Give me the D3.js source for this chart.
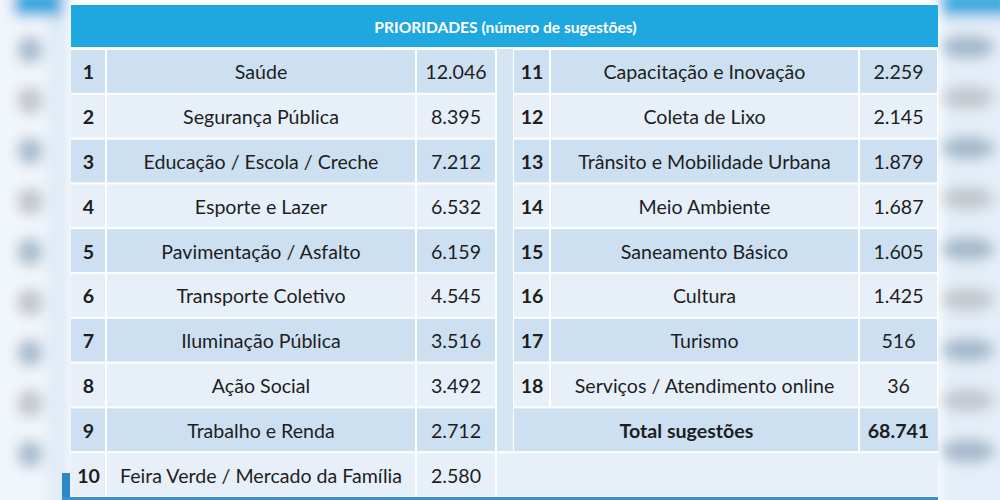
<!DOCTYPE html>
<html><head><meta charset="utf-8">
<script src="https://cdn.jsdelivr.net/npm/d3@7"></script>
<style>
html,body{margin:0;padding:0;background:#fff;}
svg{display:block;font-family:Lato,"Open Sans",sans-serif;}
</style></head><body>
<svg id="c" width="1000" height="500"></svg>
<script>
const title = "PRIORIDADES (número de sugestões)";
const leftRanks = [1,2,3,4,5,6,7,8,9,10];
const leftNames = ["Saúde","Segurança Pública","Educação / Escola / Creche","Esporte e Lazer","Pavimentação / Asfalto","Transporte Coletivo","Iluminação Pública","Ação Social","Trabalho e Renda","Feira Verde / Mercado da Família"];
const leftValues = [12046,8395,7212,6532,6159,4545,3516,3492,2712,2580];
const rightRanks = [11,12,13,14,15,16,17,18];
const rightNames = ["Capacitação e Inovação","Coleta de Lixo","Trânsito e Mobilidade Urbana","Meio Ambiente","Saneamento Básico","Cultura","Turismo","Serviços / Atendimento online"];
const rightValues = [2259,2145,1879,1687,1605,1425,516,36];
const totalLabel = "Total sugestões";
const totalValue = 68741;

const svg = d3.select("#c");
const fmt = v => d3.format(",")(v).replace(/,/g,".");
const dark = "#cde0f2", light = "#e7f0f9", head = "#1fa8e0", txt = "#1e1e1e";
const fs = 19.6;

// blurred background decoration
const defs = svg.append("defs");
defs.append("filter").attr("id","blur").attr("x","-50%").attr("y","-50%").attr("width","200%").attr("height","200%")
  .append("feGaussianBlur").attr("stdDeviation",6.5);
const bg = svg.append("g").attr("filter","url(#blur)");
bg.append("rect").attr("x",-20).attr("y",-20).attr("width",90).attr("height",540).attr("fill","#f1f6fb");
bg.append("rect").attr("x",48).attr("y",-20).attr("width",22).attr("height",540).attr("fill","#dfeaf5");
bg.append("rect").attr("x",940).attr("y",-20).attr("width",80).attr("height",540).attr("fill","#e4eef8");
bg.append("rect").attr("x",14).attr("y",-10).attr("width",48).attr("height",26).attr("fill","#2aa7df");
bg.append("rect").attr("x",942).attr("y",-10).attr("width",70).attr("height",26).attr("fill","#34abe0");
const blobY = d3.range(9).map(i => 50 + i*50.5);
bg.selectAll(".bl").data(blobY).join("ellipse")
  .attr("cx",30).attr("cy",d=>d).attr("rx",13).attr("ry",14)
  .attr("fill",(d,i)=> i%2 ? "#c2c6cc" : "#a8bccd");
bg.selectAll(".br").data(blobY).join("ellipse")
  .attr("cx",968).attr("cy",d=>d-3).attr("rx",27).attr("ry",12)
  .attr("fill",(d,i)=> i%2 ? "#c4c8ce" : "#a5b9cb");

// table
const x0 = 71, x1 = 938;
svg.append("rect").attr("x",x0).attr("y",3).attr("width",x1-x0).attr("height",495).attr("fill","#fff");
svg.append("rect").attr("x",62).attr("y",473).attr("width",8).attr("height",27).attr("fill","#2d86c8");
svg.append("rect").attr("x",62).attr("y",497).attr("width",x1-62).attr("height",3).attr("fill","#3a8fcc");

// header
svg.append("rect").attr("x",x0).attr("y",5).attr("width",x1-x0).attr("height",42).attr("fill",head);
svg.append("text").attr("x",(x0+x1)/2+1).attr("y",27).attr("text-anchor","middle").attr("dominant-baseline","central")
  .attr("fill","#fff").attr("font-weight","bold").attr("font-size",15.6).text(title);

const y = d3.scaleBand().domain(d3.range(10)).range([49,497]).paddingInner(0);
const rowFill = i => i%2===0 ? dark : light;
const gap = 1;

function block(cols, ranks, names, values){
  const g = svg.append("g");
  ranks.forEach((r,i)=>{
    const yy = y(i)+gap, h = y.bandwidth()-2*gap;
    for(let c=0;c<3;c++){
      g.append("rect").attr("x",cols[c]+(c?gap:0)).attr("y",yy)
       .attr("width",cols[c+1]-cols[c]-(c?gap:0)-gap).attr("height",h).attr("fill",rowFill(i));
    }
    const cy = y(i)+y.bandwidth()/2+0.5;
    g.append("text").attr("x",(cols[0]+cols[1])/2).attr("y",cy).attr("text-anchor","middle")
     .attr("dominant-baseline","central").attr("font-weight","bold").attr("font-size",fs).attr("fill",txt).text(r);
    g.append("text").attr("x",(cols[1]+cols[2])/2).attr("y",cy).attr("text-anchor","middle")
     .attr("dominant-baseline","central").attr("font-size",fs).attr("fill",txt).text(names[i]);
    g.append("text").attr("x",(cols[2]+cols[3])/2).attr("y",cy).attr("text-anchor","middle")
     .attr("dominant-baseline","central").attr("font-size",fs).attr("fill",txt).text(fmt(values[i]));
  });
}
const L = [71,106,416,496];
const R = [514,550,859,938];
// gap strip
svg.append("rect").attr("x",497).attr("y",49).attr("width",16).attr("height",y(9)-49-gap).attr("fill","#d4e4f3");
block(L,leftRanks,leftNames,leftValues);
block(R,rightRanks,rightNames,rightValues);
// total row
const ti = 8, ty = y(ti)+gap, th = y.bandwidth()-2*gap, tcy = y(ti)+y.bandwidth()/2+0.5;
svg.append("rect").attr("x",R[0]).attr("y",ty).attr("width",R[2]-R[0]-gap).attr("height",th).attr("fill",dark);
svg.append("rect").attr("x",R[2]+gap).attr("y",ty).attr("width",R[3]-R[2]-gap).attr("height",th).attr("fill",dark);
svg.append("text").attr("x",(R[0]+R[2])/2).attr("y",tcy).attr("text-anchor","middle").attr("dominant-baseline","central")
  .attr("font-weight","bold").attr("font-size",fs).attr("fill",txt).text(totalLabel);
svg.append("text").attr("x",(R[2]+R[3])/2).attr("y",tcy).attr("text-anchor","middle").attr("dominant-baseline","central")
  .attr("font-weight","bold").attr("font-size",fs).attr("fill",txt).text(fmt(totalValue));
// empty last row right
svg.append("rect").attr("x",497).attr("y",y(9)+gap).attr("width",R[3]-497).attr("height",y.bandwidth()-2*gap).attr("fill",light);
</script></body></html>
